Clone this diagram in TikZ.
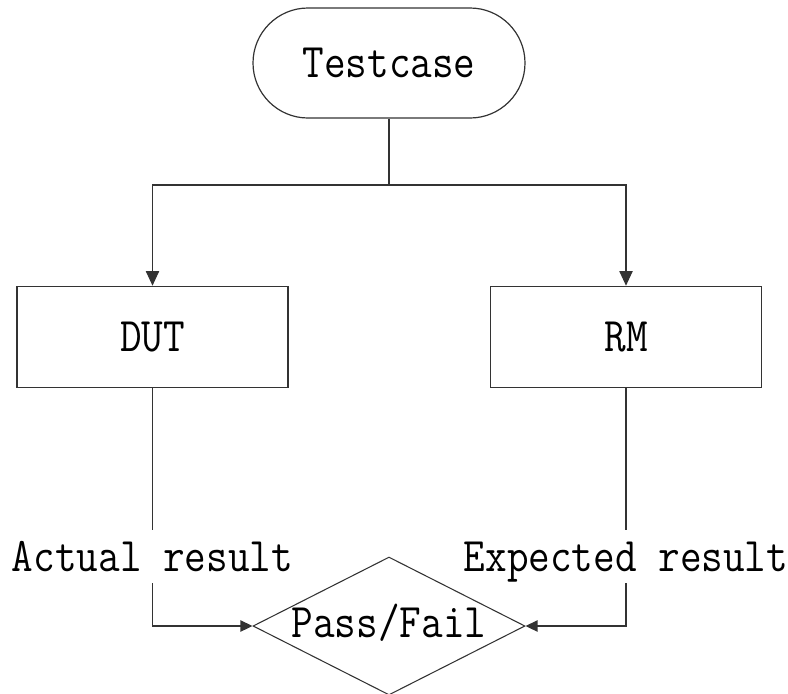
\documentclass[tikz,border=0pt]{standalone}
\usepackage{fontspec}
\newfontfamily\diagfont[FakeStretch=0.87]{Latin Modern Mono}
\usetikzlibrary{shapes.geometric,shapes.misc,arrows.meta}
\definecolor{edge}{HTML}{333333}
\tikzset{
  txt/.style={font=\diagfont\fontsize{36.2pt}{38pt}\selectfont, text=black, text height=22.1pt, text depth=0pt, inner sep=0pt},
  term/.style={txt, rounded rectangle, draw=edge, line width=0.9pt, minimum width=272*0.75pt, minimum height=110*0.75pt},
  procbox/.style={txt, rectangle, draw=edge, line width=1.2pt, minimum width=271*0.75pt, minimum height=101*0.75pt},
  decide/.style={txt, diamond, draw=edge, line width=0.8pt, aspect=2, minimum width=272*0.75pt, minimum height=138*0.75pt},
  lab/.style={txt, minimum height=53*0.75pt},
  conn/.style={draw=edge, line width=0.9pt},
  arrtop/.style={conn, -{Triangle[length=11pt,width=10pt]}},
  arrside/.style={conn, -{Triangle[length=9pt,width=8.5pt]}}
}
\begin{document}
\begin{tikzpicture}[x=0.75pt,y=-0.75pt]
\useasboundingbox (0,0) rectangle (788,693);
\node[term] (tc) at (389,63) {Testcase};
\coordinate (split) at (389,185);
\node[procbox] (dut) at (152.5,337) {DUT};
\node[procbox] (rm) at (626,337) {RM};
\node[decide, text depth=5.25pt] (pf) at (389,626) {Pass/Fail};
\node[lab] (la) at (152.5,556.5) {Actual result};
\node[lab] (le) at (626,556.5) {Expected result};
\draw[conn] (tc.south) -- (split);
\draw[arrtop] (split) -| (dut.north);
\draw[arrtop] (split) -| (rm.north);
\draw[conn] (dut.south) -- (la.north);
\draw[conn] (rm.south) -- (le.north);
\draw[arrside] (la.south) |- (pf.west);
\draw[arrside] (le.south) |- (pf.east);
\end{tikzpicture}
\end{document}
